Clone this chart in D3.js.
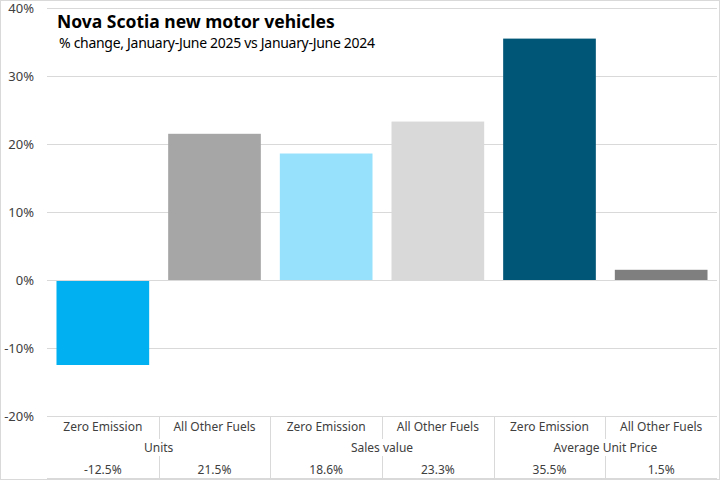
<!DOCTYPE html>
<html>
<head>
<meta charset="utf-8">
<script src="https://d3js.org/d3.v7.min.js"></script>
<style>
body { margin: 0; background: #fff; }
text { font-family: "Noto Sans", "Open Sans", sans-serif; fill: #404040; }
</style>
</head>
<body>
<svg id="chart" width="720" height="480"></svg>
<script>

// data
var groups     = ["Units", "Sales value", "Average Unit Price"]
var fuels      = ["Zero Emission", "All Other Fuels"]
var values     = [-12.5, 21.5, 18.6, 23.3, 35.5, 1.5]
var barColors  = ["#00b0f0", "#a6a6a6", "#97e1fc", "#d9d9d9", "#005677", "#7f7f7f"]
var yTicks     = [-20, -10, 0, 10, 20, 30, 40]

var rows = []
groups.forEach((g, i) => fuels.forEach((f, j) => {
	rows.push({group: g, fuel: f, key: g + "|" + f, value: values[i * 2 + j], color: barColors[i * 2 + j]})
}))

var svg = d3.select("#chart"),
	margin = {top: 8, left: 47, right: 3, bottom: 64},
	width = +svg.attr("width"),
	height = +svg.attr("height")

// chart border
svg.append("rect")
	.attr("x", 0.5).attr("y", 0.5)
	.attr("width", width - 1).attr("height", height - 1)
	.attr("fill", "none").attr("stroke", "#d9d9d9")

var x = d3.scaleBand()
	.domain(rows.map(d => d.key))
	.range([margin.left, width - margin.right])
	.paddingInner(0.17)
	.paddingOuter(0.085)

var xs = d3.scaleBand()
	.domain(rows.map(d => d.key))
	.range([margin.left, width - margin.right])

var y = d3.scaleLinear()
	.domain([-20, 40])
	.range([height - margin.bottom, margin.top])

// gridlines + tick labels
var yAxis = svg.append("g")
	.attr("transform", `translate(${margin.left},0)`)
	.call(d3.axisLeft(y).tickValues(yTicks).tickSize(-(width - margin.left - margin.right)).tickFormat(d => d + "%"))
yAxis.select(".domain").remove()
yAxis.selectAll(".tick line").attr("stroke", "#d9d9d9")
yAxis.selectAll(".tick text")
	.attr("x", -13)
	.style("font-size", "13px")
	.attr("fill", "#404040")

// bars
svg.selectAll("rect.bar")
	.data(rows)
	.enter().append("rect")
	.attr("class", "bar")
	.attr("x", d => x(d.key))
	.attr("width", x.bandwidth())
	.attr("y", d => y(Math.max(0, d.value)))
	.attr("height", d => Math.abs(y(d.value) - y(0)))
	.attr("fill", d => d.color)

// zero line above the bars
svg.append("line")
	.attr("x1", margin.left).attr("x2", width - margin.right)
	.attr("y1", y(0) + 0.5).attr("y2", y(0) + 0.5)
	.attr("stroke", "#d9d9d9")

// category table under the plot
var tTop = y(-20), tBottom = height - 2
var table = svg.append("g")

// separators between fuels (full height) and between groups
rows.forEach((d, i) => {
	if (i == 0) return
	table.append("line")
		.attr("x1", Math.round(xs(d.key)) + 0.5).attr("x2", Math.round(xs(d.key)) + 0.5)
		.attr("y1", tTop).attr("y2", tBottom)
		.attr("stroke", "#d9d9d9")
})
table.append("line")
	.attr("x1", margin.left).attr("x2", width - margin.right)
	.attr("y1", tBottom + 0.5).attr("y2", tBottom + 0.5)
	.attr("stroke", "#d9d9d9")

table.selectAll("text.fuel")
	.data(rows)
	.enter().append("text")
	.attr("class", "fuel")
	.attr("x", d => xs(d.key) + xs.bandwidth() / 2)
	.attr("y", tTop + 15)
	.attr("text-anchor", "middle")
	.style("font-size", "12px")
	.text(d => d.fuel)

groups.forEach(g => {
	var cx = xs(g + "|" + fuels[1])
	var t = table.append("text")
		.attr("x", cx)
		.attr("y", tTop + 36)
		.attr("text-anchor", "middle")
		.style("font-size", "12px")
		.text(g)
	var bb = t.node().getBBox()
	table.insert("rect", "text")
		.attr("x", bb.x - 3).attr("y", bb.y)
		.attr("width", bb.width + 6).attr("height", bb.height)
		.attr("fill", "#fff")
})

table.selectAll("text.val")
	.data(rows)
	.enter().append("text")
	.attr("class", "val")
	.attr("x", d => xs(d.key) + xs.bandwidth() / 2)
	.attr("y", tTop + 58)
	.attr("text-anchor", "middle")
	.style("font-size", "12px")
	.text(d => d.value.toFixed(1) + "%")

// title
svg.append("text")
	.attr("x", 57).attr("y", 28)
	.style("font-size", "17.5px")
	.style("font-weight", "bold")
	.style("fill", "#000")
	.text("Nova Scotia new motor vehicles")

svg.append("text")
	.attr("x", 59).attr("y", 48)
	.style("font-size", "14px")
	.style("fill", "#000")
	.attr("letter-spacing", "-0.3")
	.text("% change, January-June 2025 vs January-June 2024")

</script>
</body>
</html>
